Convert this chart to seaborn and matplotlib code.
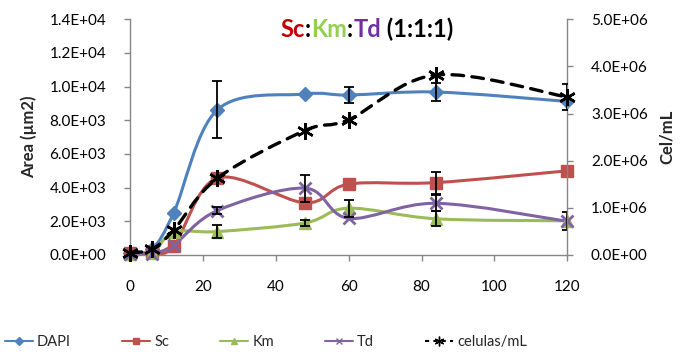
import numpy as np
import matplotlib
matplotlib.use("Agg")
import matplotlib.pyplot as plt
import seaborn as sns
from matplotlib.path import Path
from matplotlib.patches import PathPatch
from matplotlib.lines import Line2D
from matplotlib.ticker import FuncFormatter, MultipleLocator

# Data
hours = [0, 6, 12, 24, 48, 60, 84, 120]
dapi = [100, 340, 2500, 8630, 9560, 9500, 9680, 9120]
dapi_err = [0, 0, 0, 1700, 0, 460, 520, 0]
sc = [100, 150, 520, 4570, 3100, 4210, 4300, 5000]
sc_err = [0, 0, 0, 0, 0, 0, 650, 0]
km = [50, 100, 1350, 1390, 1900, 2780, 2150, 2030]
km_err = [0, 0, 0, 400, 200, 500, 450, 550]
td = [50, 80, 600, 2640, 3970, 2180, 3070, 2000]
td_err = [0, 0, 0, 200, 800, 0, 480, 0]
cel = [0.05e6, 0.12e6, 0.53e6, 1.63e6, 2.64e6, 2.87e6, 3.82e6, 3.35e6]
cel_err = [0, 0, 0, 0, 0, 0, 0, 0.28e6]

BLUE, RED, GREEN, PURPLE = "#4F81BD", "#C0504D", "#9BBB59", "#8064A2"
GRAY = "#868686"

sns.set_theme(style="white")
plt.rcParams["font.family"] = ["Lato", "DejaVu Sans"]


def smooth_path(x, y):
    # Excel-like smoothed line: cubic Bezier segments through the points
    p = np.column_stack([x, y]).astype(float)
    ext = np.vstack([p[0], p, p[-1]])
    verts = [p[0]]
    codes = [Path.MOVETO]
    for i in range(len(p) - 1):
        p0, p1, p2, p3 = ext[i], ext[i + 1], ext[i + 2], ext[i + 3]
        verts += [p1 + (p2 - p0) / 6, p2 - (p3 - p1) / 6, p2]
        codes += [Path.CURVE4] * 3
    return Path(verts, codes)


def draw_series(ax, y, err, color, marker, ms, mew=1, ls="-", lw=2.2):
    ax.add_patch(PathPatch(smooth_path(hours, y), facecolor="none", edgecolor=color,
                           lw=lw, linestyle=ls, capstyle="round", zorder=2))
    ax.plot(hours, y, linestyle="none", marker=marker, ms=ms, color=color,
            mec=color, mew=mew, clip_on=False, zorder=3)
    mask = np.array(err) > 0
    ax.errorbar(np.array(hours)[mask], np.array(y)[mask], yerr=np.array(err)[mask],
                fmt="none", ecolor="black", elinewidth=1.3, capsize=3.5, capthick=1.3,
                zorder=4)


fig = plt.figure(figsize=(6.95, 3.54), dpi=100)
ax = fig.add_axes([0.187, 0.2797, 0.8163 - 0.187, 0.9455 - 0.2797])
ax2 = ax.twinx()

draw_series(ax, dapi, dapi_err, BLUE, "D", 7.5)
draw_series(ax, sc, sc_err, RED, "s", 8.5)
draw_series(ax, km, km_err, GREEN, "^", 8.5)
draw_series(ax, td, td_err, PURPLE, "x", 8, mew=2)
draw_series(ax2, cel, cel_err, "black", (6, 2, 0), 12, mew=1.8, ls=(0, (3.5, 2.5)), lw=2.4)

sci = FuncFormatter(lambda v, pos: f"{v:.1E}")
ax.set_xlim(0, 120)
ax.set_ylim(0, 14000)
ax2.set_ylim(0, 5e6)
ax.xaxis.set_major_locator(MultipleLocator(20))
ax.yaxis.set_major_locator(MultipleLocator(2000))
ax2.yaxis.set_major_locator(MultipleLocator(1e6))
ax.yaxis.set_major_formatter(sci)
ax2.yaxis.set_major_formatter(sci)

for a in (ax, ax2):
    a.grid(False)
    for side, sp in a.spines.items():
        sp.set_color(GRAY)
        sp.set_linewidth(1.0)
    a.spines["top"].set_visible(False)
    a.tick_params(colors=GRAY, labelcolor="black", length=4, width=1.0,
                  labelsize=11, direction="out")
ax.spines["right"].set_visible(False)
ax2.spines["left"].set_visible(False)
ax2.spines["bottom"].set_visible(False)
ax.tick_params(axis="y", left=True, pad=13)
ax.tick_params(axis="x", bottom=True, pad=14)
ax2.tick_params(axis="y", right=True, pad=13)

ax.set_ylabel("Area (µm2)", fontsize=12, fontweight="bold", labelpad=9)
ax2.set_ylabel("Cel/mL", fontsize=12, fontweight="bold", labelpad=8)

# Multi-coloured title, centred on x = 367 px
parts = [("Sc", "#C00000"), (":", "black"), ("Km", "#92D050"), (":", "black"),
         ("Td", "#7030A0"), (" (1:1:1)", "black")]
first = fig.text(0, 1 - 37 / 354, parts[0][0], color=parts[0][1],
                 fontsize=17, fontweight="bold", va="baseline", ha="left")
prev = first
for txt, col in parts[1:]:
    prev = ax.annotate(txt, xy=(1, 0), xycoords=prev, va="bottom", ha="left",
                       color=col, fontsize=17, fontweight="bold")
fig.canvas.draw()
r = fig.canvas.get_renderer()
x0 = first.get_window_extent(r).x0
x1 = prev.get_window_extent(r).x1
first.set_x((367 - (x1 - x0) / 2) / 695)

handles = [
    Line2D([], [], color=BLUE, lw=1.5, marker="D", ms=4),
    Line2D([], [], color=RED, lw=1.5, marker="s", ms=5),
    Line2D([], [], color=GREEN, lw=1.5, marker="^", ms=5),
    Line2D([], [], color=PURPLE, lw=1.5, marker="x", ms=5, mew=1),
    Line2D([], [], color="black", lw=1.5, marker=(6, 2, 0), ms=7, mew=1, dashes=(2, 2)),
]
labels = ["DAPI", "Sc", "Km", "Td", "celulas/mL"]
fig.legend(handles, labels, loc="center left", bbox_to_anchor=(5 / 695, 1 - 342 / 354),
           ncol=5, frameon=False, borderpad=0, borderaxespad=0,
           handlelength=1.9, handletextpad=0.3, columnspacing=3.5,
           prop={"family": ["Liberation Sans Narrow", "Lato"], "size": 10.5})

fig.savefig("out.png", dpi=100)
